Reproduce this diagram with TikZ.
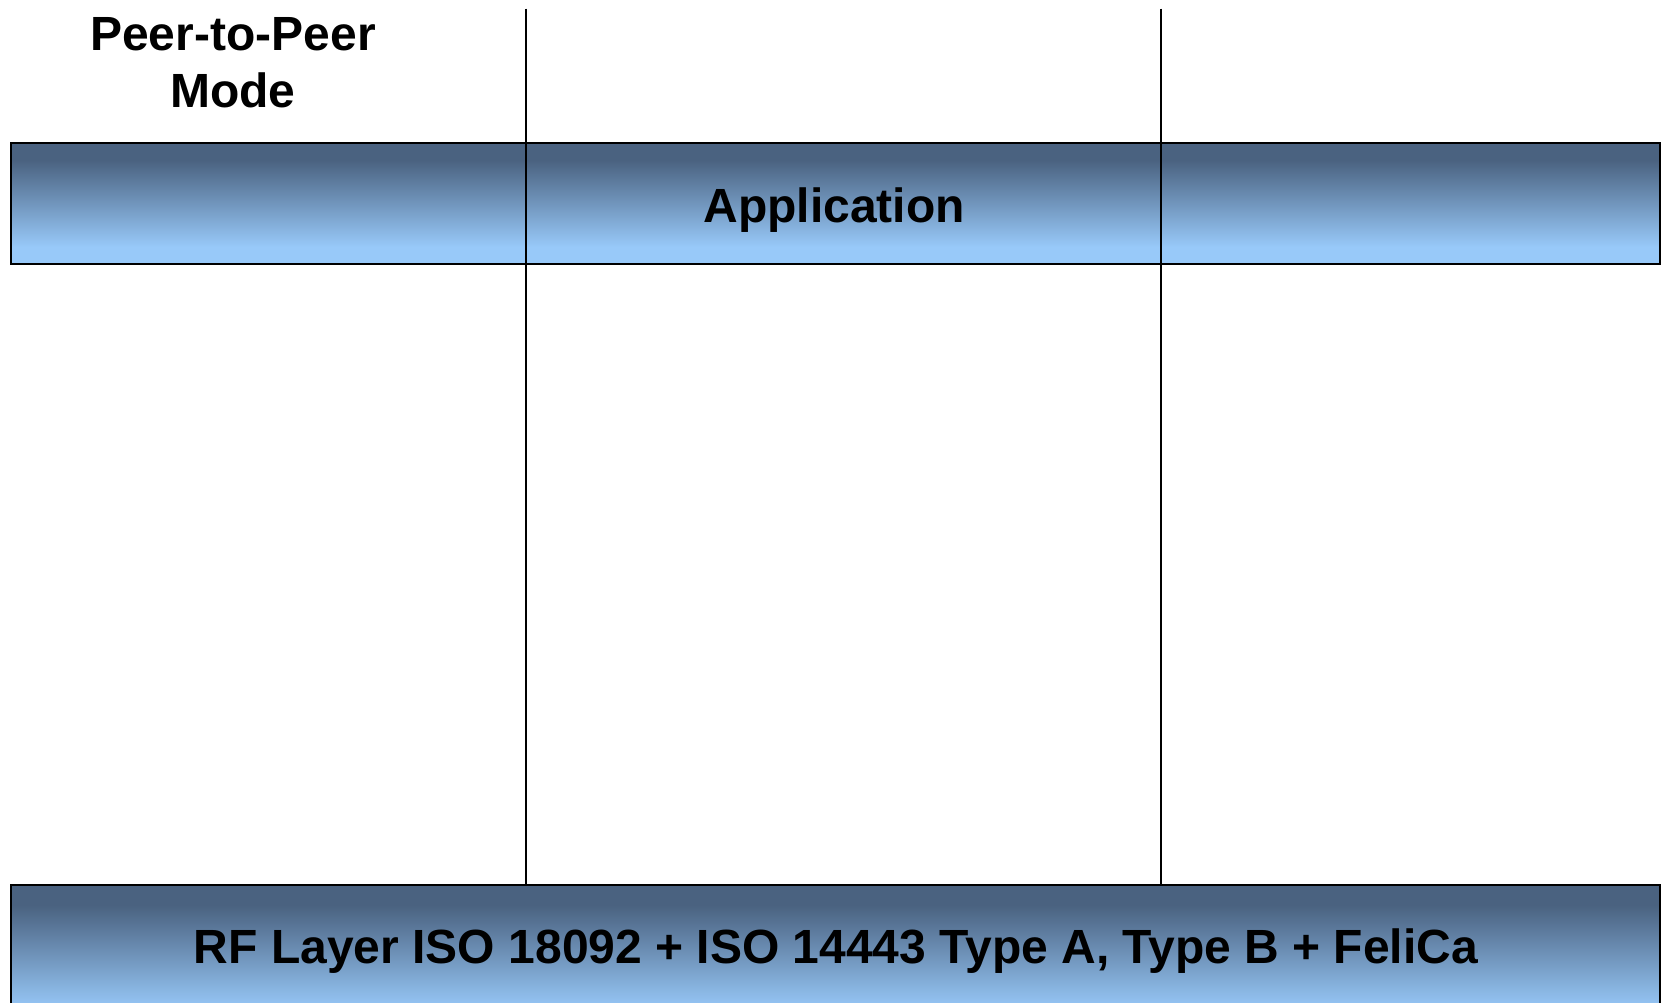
\documentclass[tikz,border=0pt]{standalone}
\usepackage{fontspec}
\setmainfont{Liberation Sans}
\definecolor{bandtop}{HTML}{4A6280}
\definecolor{bandbot}{HTML}{98C9F9}
\pgfdeclareverticalshading{bandshade}{100bp}{color(0bp)=(bandbot); color(32bp)=(bandbot); color(68bp)=(bandtop); color(100bp)=(bandtop)}
\tikzset{
  band/.style={draw=black, line width=2pt, shading=bandshade, inner sep=0pt},
  label/.style={font=\fontsize{48}{57}\selectfont\bfseries, inner sep=0pt, anchor=base, align=center},
  divider/.style={draw=black, line width=1.6pt}
}
\begin{document}
\begin{tikzpicture}[x=1pt,y=-1pt]
\useasboundingbox (0,0) rectangle (1665,1002);
\begin{scope}
\clip (0,0) rectangle (1665,1002);
% top band
\path[band] (10.6,143) rectangle (1660,264);
% bottom band (extends past bottom edge)
\path[band] (10.6,885) rectangle (1660,1030);
\end{scope}
% dividers
\coordinate (d1t) at (526,8.5);
\coordinate (d1b) at (526,885);
\coordinate (d2t) at (1161,8.5);
\coordinate (d2b) at (1161,885);
\draw[divider] (d1t) -- (d1b);
\draw[divider] (d2t) -- (d2b);
% texts
\node[label] (p2p) at (233,107) {Peer-to-Peer\\Mode};
\node[label] (app) at (834,222) {Application};
\node[label] (rf) at (836,963) {RF Layer ISO 18092 + ISO 14443 Type A, Type B + FeliCa};
\end{tikzpicture}
\end{document}
